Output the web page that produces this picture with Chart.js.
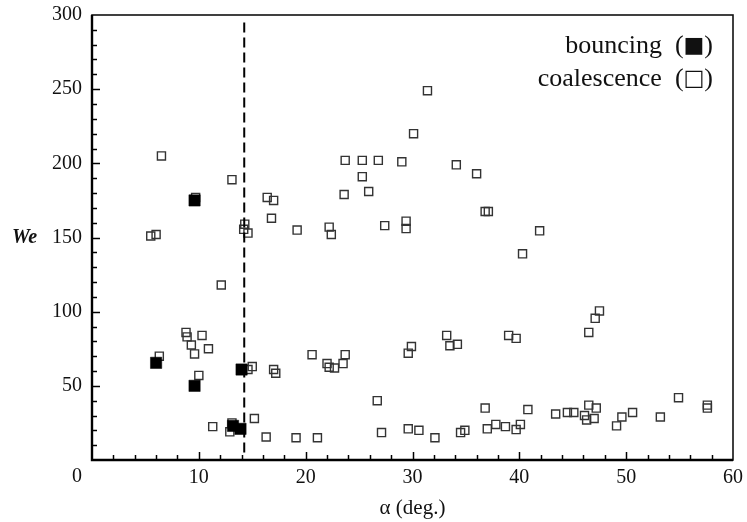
<!DOCTYPE html>
<html><head><meta charset="utf-8">
<script src="https://cdn.jsdelivr.net/npm/chart.js@4.4.0/dist/chart.umd.min.js"></script>
<style>html,body{margin:0;padding:0;background:#fff;}#wrap{width:747px;height:522px;}</style>
</head><body><div id="wrap"><canvas id="c" width="747" height="522"></canvas></div>
<script>
// ---- data ----
const xMin = 0, xMax = 60, yMin = 0, yMax = 300;
const xTickLabels = [10, 20, 30, 40, 50, 60];
const yTickLabels = [50, 100, 150, 200, 250, 300];
const bounceAlpha = [9.6, 6.0, 9.6, 14.0, 13.2, 13.9];
const bounceWe    = [175, 65.5, 50, 61, 23, 21];
const coalAlpha = [6.5, 9.7, 13.1, 5.5, 6.0, 16.4, 17.0, 16.8, 14.3, 14.2, 14.6, 19.2,
  31.4, 30.1, 23.7, 25.3, 26.8, 29.0, 34.1, 36.0, 25.3, 23.6, 25.9, 36.8, 37.1, 22.2, 22.4, 27.4, 29.4, 29.4, 41.9, 40.3,
  12.1, 8.8, 8.9, 10.3, 9.3, 9.6, 10.9, 6.3, 10.0, 15.0, 14.6, 17.0, 17.2, 15.2, 11.3, 13.1, 12.9, 16.3, 19.1, 21.1,
  20.6, 22.0, 22.2, 22.7, 23.5, 23.7, 26.7, 27.1, 29.6, 29.9, 29.6, 30.6, 33.2, 33.5, 34.2, 32.1, 34.5, 34.9, 36.8, 37.0, 37.8, 38.7, 39.0, 39.7, 39.7, 40.1, 40.8, 43.4, 44.5, 45.1,
  46.5, 47.1, 47.5, 46.5, 47.2, 46.1, 46.3, 47.0, 49.1, 49.6, 50.6, 53.2, 54.9, 57.6, 57.6];
const coalWe = [205, 177, 189, 151, 152, 177, 175, 163, 159, 155.5, 153, 155,
  249, 220, 202, 202, 202, 201, 199, 193, 191, 179, 181, 167.5, 167.5, 157, 152, 158, 161, 156, 154.5, 139,
  118, 86, 83, 84, 77.5, 71.5, 75, 70, 57, 63, 61, 61, 58.5, 28, 22.5, 25, 19, 15.5, 15, 15,
  71, 65, 62.5, 62, 65, 71, 40, 18.5, 72, 76.5, 21, 20, 84, 77, 78, 15, 18.5, 20, 35, 21, 24, 22.5, 84, 82, 20.5, 24, 34, 31, 32, 32,
  86, 95.5, 100.5, 37, 35, 30, 27, 28, 23, 29, 32, 29, 42, 37, 35];
const thresholdAlpha = 14.25;
const thresholdWe = [5, 298];
const legendNames = ['bouncing', 'coalescence'];
const legendSymbols = ['\u25A0', '\u25A1'];
const xTitle = '\u03B1 (deg.)';
const yTitle = 'We';

const toPts = (xs, ys) => xs.map((x, i) => ({x: x, y: ys[i]}));
const SERIF = '"Liberation Serif", "Times New Roman", serif';
const TXT = '#111';

function legendLine(ctx, right, baseline, name, sym) {
  const fText = '26px ' + SERIF, fSym = '22px "DejaVu Sans", sans-serif';
  ctx.textAlign = 'left'; ctx.textBaseline = 'alphabetic';
  ctx.font = fText;
  const wClose = ctx.measureText(')').width;
  const wOpen = ctx.measureText(name + '  (').width;
  ctx.font = fSym;
  const wSym = ctx.measureText(sym).width;
  let x = right - wClose - wSym - wOpen;
  ctx.font = fText; ctx.fillText(name + '  (', x, baseline); x += wOpen;
  ctx.font = fSym; ctx.fillText(sym, x, baseline - 1); x += wSym;
  ctx.font = fText; ctx.fillText(')', x, baseline);
}

const decor = {
  id: 'decor',
  afterDraw(chart) {
    const ctx = chart.ctx, a = chart.chartArea;
    const xs = chart.scales.x, ys = chart.scales.y;
    ctx.save();
    // inward ticks
    ctx.strokeStyle = '#000'; ctx.lineWidth = 1.5;
    xs.ticks.forEach(t => {
      const v = t.value; if (v <= xMin || v >= xMax) return;
      const p = Math.round(xs.getPixelForValue(v)) + 0.5;
      const len = (v % 10 === 0) ? 8 : 5;
      ctx.beginPath(); ctx.moveTo(p, a.bottom); ctx.lineTo(p, a.bottom - len); ctx.stroke();
    });
    ys.ticks.forEach(t => {
      const v = t.value; if (v <= yMin || v >= yMax) return;
      const p = Math.round(ys.getPixelForValue(v)) + 0.5;
      const len = (v % 50 === 0) ? 8 : 5;
      ctx.beginPath(); ctx.moveTo(a.left, p); ctx.lineTo(a.left + len, p); ctx.stroke();
    });
    // frame
    ctx.lineWidth = 1.6; ctx.strokeStyle = '#111';
    ctx.strokeRect(a.left, a.top, a.right - a.left, a.bottom - a.top);
    ctx.lineWidth = 2.4; ctx.strokeStyle = '#000';
    ctx.beginPath(); ctx.moveTo(a.left, a.top); ctx.lineTo(a.left, a.bottom); ctx.lineTo(a.right, a.bottom); ctx.stroke();
    // origin label
    ctx.fillStyle = TXT; ctx.font = '20px ' + SERIF;
    ctx.textAlign = 'center'; ctx.textBaseline = 'middle';
    ctx.fillText('0', xs.getPixelForValue(0) - 15, a.bottom + 17);
    // axis titles
    ctx.font = '21px ' + SERIF;
    ctx.fillText(xTitle, (a.left + a.right) / 2, a.bottom + 48);
    ctx.font = 'italic bold 20px ' + SERIF;
    ctx.textAlign = 'left';
    ctx.fillText(yTitle, 12, ys.getPixelForValue(150));
    // legend
    legendLine(ctx, a.right - 20, 53, legendNames[0], legendSymbols[0]);
    legendLine(ctx, a.right - 20, 86, legendNames[1], legendSymbols[1]);
    ctx.restore();
  }
};

new Chart(document.getElementById('c'), {
  type: 'scatter',
  data: {
    datasets: [
      {label: 'bouncing', data: toPts(bounceAlpha, bounceWe), pointStyle: 'rect', pointRadius: 8,
       backgroundColor: '#000', borderColor: '#000', borderWidth: 0.5},
      {label: 'threshold', type: 'line', data: thresholdWe.map(y => ({x: thresholdAlpha, y: y})),
       borderColor: '#000', borderWidth: 2, borderDash: [10, 5], pointRadius: 0, fill: false, showLine: true},
      {label: 'coalescence', data: toPts(coalAlpha, coalWe), pointStyle: 'rect', pointRadius: 5.7,
       backgroundColor: 'rgba(0,0,0,0)', borderColor: '#333', borderWidth: 1.4}
    ]
  },
  options: {
    responsive: false, animation: false, devicePixelRatio: 1,
    layout: {padding: {left: 0, top: 15, right: 14, bottom: 0}},
    plugins: {legend: {display: false}, tooltip: {enabled: false}},
    scales: {
      x: {type: 'linear', min: xMin, max: xMax,
        grid: {display: false, drawTicks: false}, border: {display: false},
        ticks: {stepSize: 2, autoSkip: false, maxRotation: 0, padding: 6, color: TXT,
          font: {family: SERIF, size: 20},
          callback: v => xTickLabels.includes(v) ? String(v) : ''},
        afterFit: s => { s.height = 62; s.paddingLeft = 0; s.paddingRight = 0; }},
      y: {type: 'linear', min: yMin, max: yMax,
        grid: {display: false, drawTicks: false}, border: {display: false},
        ticks: {stepSize: 10, autoSkip: false, padding: 10, color: TXT,
          font: {family: SERIF, size: 20},
          callback: v => yTickLabels.includes(v) ? String(v) : ''},
        afterFit: s => { s.width = 92; s.paddingTop = 0; s.paddingBottom = 0; }}
    }
  },
  plugins: [decor]
});
</script></body></html>
